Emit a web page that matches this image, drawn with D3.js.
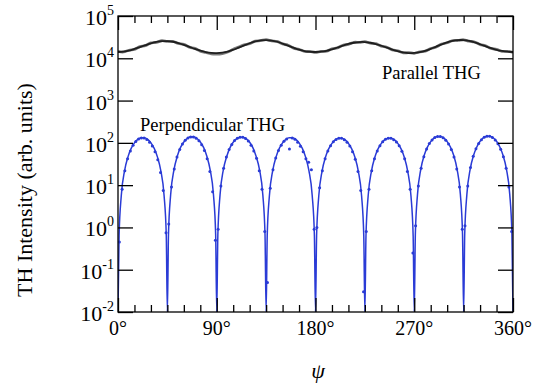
<!DOCTYPE html>
<html>
<head>
<meta charset="utf-8">
<script src="https://cdn.jsdelivr.net/npm/d3@7"></script>
<style>
body { margin: 0; background: white; }
text { font-family: "Liberation Serif", "DejaVu Serif", serif; }
</style>
</head>
<body>
<svg></svg>
<script>
var size = {width:541, height:386}
var margins = {top:16, right:28, left:118, bottom:74}

// tick labels
var xTicks = [0, 90, 180, 270, 360]
var xMinor = [15, 30, 45, 60, 75, 105, 120, 135, 150, 165, 195, 210, 225, 240, 255, 285, 300, 315, 330, 345]
var yExp = [-2, -1, 0, 1, 2, 3, 4, 5]

// parallel THG, fit (black) and data (gray), every 5 deg
var parAngles = [0,5,10,15,20,25,30,35,40,45,50,55,60,65,70,75,80,85,90,95,100,105,110,115,120,125,130,135,140,145,150,155,160,165,170,175,180,185,190,195,200,205,210,215,220,225,230,235,240,245,250,255,260,265,270,275,280,285,290,295,300,305,310,315,320,325,330,335,340,345,350,355,360]
var parFit = [14100,14400,15200,16600,18400,20400,22500,24300,25400,25500,24600,22900,20800,18700,16700,15100,14000,13400,13300,
    13600,14400,15900,17900,20200,22700,25000,26600,27000,26300,24600,22300,20000,17800,16000,14800,14200,14100,
    14300,15000,16300,18000,19900,21800,23300,24200,24200,23300,21700,19800,17900,16100,14700,13800,13300,13400,
    13900,15000,16700,18900,21300,23700,25700,26900,26900,25800,23800,21500,19300,17400,15900,14900,14300,14100]
var parData = [14600,14100,15500,16300,18900,20000,23100,23800,26000,25000,25100,22400,21300,18300,17100,14800,13700,12700,12500,
    12900,14100,16300,18400,20800,22200,25500,26100,27500,25800,25100,21900,20400,17400,16300,14500,14500,13800,
    14600,14700,16700,17600,20300,21400,23800,23800,24700,22800,22100,19400,18200,15800,15000,13500,13600,13100,
    14200,14700,17000,18500,21700,23300,26200,26400,27400,25300,24300,21100,19700,17100,16200,14600,14600,13800]

// perpendicular THG fit line
var perpAngles = [0,1,3,6,9,12,15,18,21,24,27,30,33,36,39,42,44,
    45,46,48,51,54,57,60,63,66,69,72,75,78,81,84,87,89,
    90,91,93,96,99,102,105,108,111,114,117,120,123,126,129,132,134,
    135,136,138,141,144,147,150,153,156,159,162,165,168,171,174,177,179,
    180,181,183,186,189,192,195,198,201,204,207,210,213,216,219,222,224,
    225,226,228,231,234,237,240,243,246,249,252,255,258,261,264,267,269,
    270,271,273,276,279,282,285,288,291,294,297,300,303,306,309,312,314,
    315,316,318,321,324,327,330,333,336,339,342,345,348,351,354,357,359,360]
var perpFit = [0.01,0.64,5.7,22,46,74,100,121,132,132,121,100,74,46,22,5.7,0.64,
    0.01,0.68,6.0,23,48,78,105,127,139,139,127,105,78,48,23,6.0,0.68,
    0.01,0.66,5.9,23,47,76,103,124,136,136,124,103,76,47,23,5.9,0.66,
    0.01,0.64,5.7,22,46,74,100,121,132,132,121,100,74,46,22,5.7,0.64,
    0.01,0.63,5.6,21.5,45,72,97.5,118,129,129,118,97.5,72,45,21.5,5.6,0.63,
    0.01,0.63,5.6,21.5,45,72,97.5,118,129,129,118,97.5,72,45,21.5,5.6,0.63,
    0.01,0.69,6.2,24,50,79,107,130,142,142,130,107,79,50,24,6.2,0.69,
    0.01,0.70,6.2,24,50,80,109,132,144,144,132,109,80,50,24,6.2,0.70,0.01]

// perpendicular THG measured points, every 2.5 deg from 1.25
var dotValues = [0.45,8,22,42,64,88,108,123,131,130,120,104,84,62,40,20,7.5,0.75,
    1.2,9,24,46,70,94,115,130,138,137,128,112,90,66,42,21,7,0.5,
    0.9,9.5,25,46,70,92,114,128,136,135,126,110,88,64,43,22,8,0.8,
    0.05,8.5,23,44,66,88,109,124,72,131,122,104,83,62,42,35,23,0.9,
    1.0,8.7,22,42,64,86,106,120,128,128,119,104,84,62,41,21,7.5,0.03,
    0.8,8,22,42,64,86,106,121,128,128,119,105,85,63,42,21,8,0.25,
    1.1,9.5,25,47,72,96,117,133,141,141,132,116,94,70,46,24,9,0.9,
    1.1,9.6,26,48,73,97,119,135,143,143,134,117,95,71,47,25,9,0.8]
var dotAngles = d3.range(dotValues.length).map(function(i){ return 1.25 + 2.5*i })

var blue = "#2a3bd6"

var svg = d3.select("svg")
    .attr("width", size.width)
    .attr("height", size.height)

var x = d3.scaleLinear().domain([0, 360]).range([margins.left, size.width - margins.right])
var y = d3.scaleLog().domain([0.01, 100000]).range([size.height - margins.bottom, margins.top])

var pLeft = x(0), pRight = x(360), pTop = y(100000), pBottom = y(0.01)

svg.append("clipPath").attr("id", "clip")
    .append("rect").attr("x", pLeft).attr("y", pTop).attr("width", pRight - pLeft).attr("height", pBottom - pTop)

var plot = svg.append("g").attr("clip-path", "url(#clip)")

var line = d3.line()
    .x(function(d){ return x(d[0]) })
    .y(function(d){ return y(d[1]) })

// parallel
plot.append("path")
    .datum(d3.zip(parAngles, parData))
    .attr("d", line.curve(d3.curveCatmullRom))
    .style("fill", "none")
    .style("stroke", "#7a7a7a")
    .style("stroke-width", 2.8)

plot.append("path")
    .datum(d3.zip(parAngles, parFit))
    .attr("d", line.curve(d3.curveCatmullRom))
    .style("fill", "none")
    .style("stroke", "#1e1e1e")
    .style("stroke-width", 1.8)

// perpendicular
plot.append("path")
    .datum(d3.zip(perpAngles, perpFit))
    .attr("d", line.curve(d3.curveMonotoneX))
    .style("fill", "none")
    .style("stroke", blue)
    .style("stroke-width", 1.5)

plot.selectAll("circle")
    .data(d3.zip(dotAngles, dotValues))
    .enter()
    .append("circle")
    .attr("cx", function(d){ return x(d[0]) })
    .attr("cy", function(d){ return y(d[1]) })
    .attr("r", 1.5)
    .style("fill", blue)

// frame
svg.append("rect")
    .attr("x", pLeft).attr("y", pTop)
    .attr("width", pRight - pLeft).attr("height", pBottom - pTop)
    .style("fill", "none")
    .style("stroke", "black")
    .style("stroke-width", 1.3)

// x ticks, inward top and bottom
svg.append("g").attr("transform", "translate(0," + pBottom + ")")
    .call(d3.axisBottom(x).tickValues(xMinor).tickSize(-7).tickFormat(""))
svg.append("g").attr("transform", "translate(0," + pTop + ")")
    .call(d3.axisTop(x).tickValues(xMinor).tickSize(-7).tickFormat(""))
svg.append("g").attr("transform", "translate(0," + pBottom + ")")
    .call(d3.axisBottom(x).tickValues(xTicks).tickSize(-14).tickFormat(""))
svg.append("g").attr("transform", "translate(0," + pTop + ")")
    .call(d3.axisTop(x).tickValues(xTicks).tickSize(-14).tickFormat(""))

// y ticks, inward left and right
var yVals = yExp.map(function(e){ return Math.pow(10, e) })
svg.append("g").attr("transform", "translate(" + pLeft + ",0)")
    .call(d3.axisLeft(y).tickValues(yVals).tickSize(-15).tickFormat(""))
svg.append("g").attr("transform", "translate(" + pRight + ",0)")
    .call(d3.axisRight(y).tickValues(yVals).tickSize(-15).tickFormat(""))

svg.selectAll(".domain").remove()
svg.selectAll(".tick line").style("stroke", "black").style("stroke-width", 1.3)

// x tick labels
svg.selectAll(".xlab")
    .data(xTicks)
    .enter()
    .append("text")
    .attr("x", function(d){ return x(d) })
    .attr("y", pBottom + 23)
    .attr("text-anchor", "middle")
    .style("font-size", "20px")
    .text(function(d){ return d + "\u00b0" })

// y tick labels
var ylab = svg.selectAll(".ylab")
    .data(yExp)
    .enter()
    .append("text")
    .attr("x", pLeft - 4)
    .attr("y", function(d){ return y(Math.pow(10, d)) + 9 })
    .attr("text-anchor", "end")
    .style("font-size", "22px")
ylab.append("tspan").text("10")
ylab.append("tspan")
    .attr("dy", -10)
    .style("font-size", "14px")
    .text(function(d){ return d })

// annotations
svg.append("text")
    .attr("x", 382).attr("y", 79)
    .style("font-size", "18.5px")
    .text("Parallel THG")

svg.append("text")
    .attr("x", 140).attr("y", 131)
    .style("font-size", "18.5px")
    .text("Perpendicular THG")

svg.append("text")
    .attr("transform", "translate(32,190) rotate(-90)")
    .attr("text-anchor", "middle")
    .style("font-size", "22px")
    .text("TH Intensity (arb. units)")

svg.append("text")
    .attr("x", 318).attr("y", 378)
    .attr("text-anchor", "middle")
    .style("font-size", "22px")
    .style("font-style", "italic")
    .text("\u03c8")
</script>
</body>
</html>
